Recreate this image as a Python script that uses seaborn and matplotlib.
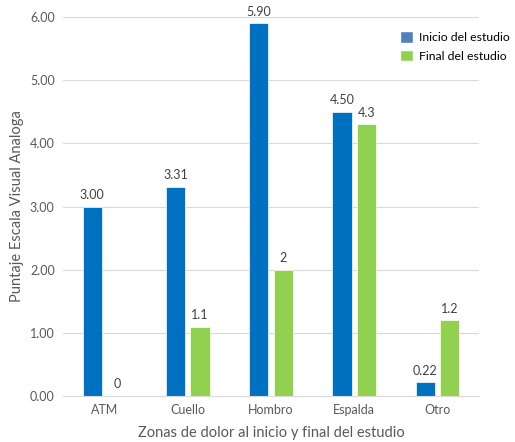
import matplotlib
matplotlib.use("Agg")
import matplotlib.pyplot as plt
import seaborn as sns
import pandas as pd
from matplotlib.patches import Patch

categories = ["ATM", "Cuello", "Hombro", "Espalda", "Otro"]
inicio = [3.00, 3.31, 5.90, 4.50, 0.22]
final = [0.0, 1.1, 2.0, 4.3, 1.2]
inicio_labels = ["3.00", "3.31", "5.90", "4.50", "0.22"]
final_labels = ["0", "1.1", "2", "4.3", "1.2"]
series = ["Inicio del estudio", "Final del estudio"]
yticks = [0, 1, 2, 3, 4, 5, 6]

df = pd.DataFrame({
    "zona": categories * 2,
    "valor": inicio + final,
    "serie": [series[0]] * len(categories) + [series[1]] * len(categories),
})

sns.set_theme(style="white")
plt.rcParams["font.family"] = ["Lato", "DejaVu Sans"]

fig = plt.figure(figsize=(5.15, 4.42), dpi=100)
ax = fig.add_axes([63 / 515, 1 - 396 / 442, (479 - 63) / 515, (396 - 17) / 442])

bar_colors = ["#0070C0", "#92D050"]
sns.barplot(data=df, x="zona", y="valor", hue="serie", order=categories,
            hue_order=series, palette=bar_colors, saturation=1, width=0.59,
            gap=0.22, ax=ax, legend=False, edgecolor="white", linewidth=0.5)

ax.set_ylim(0, 6)
ax.set_yticks(yticks)
ax.set_yticklabels([f"{v:.2f}" for v in yticks])
ax.yaxis.grid(True, color="#D9D9D9", linewidth=0.8)
ax.set_axisbelow(True)
for s in ["top", "right", "left"]:
    ax.spines[s].set_visible(False)
ax.spines["bottom"].set_color("#D9D9D9")
ax.spines["bottom"].set_linewidth(0.8)
ax.tick_params(axis="both", length=0, labelsize=9, colors="#595959", pad=6)

ax.set_xlabel("Zonas de dolor al inicio y final del estudio", fontsize=10.5,
              color="#595959", labelpad=7)
ax.set_ylabel("Puntaje Escala Visual Analoga", fontsize=10.5, color="#595959",
              labelpad=4)

for cont, labs in zip(ax.containers, [inicio_labels, final_labels]):
    ax.bar_label(cont, labels=labs, padding=4, fontsize=9, color="#404040")

handles = [Patch(facecolor="#4F81BD"), Patch(facecolor="#92D050")]
fig.legend(handles, series, loc="upper left", bbox_to_anchor=(0.776, 0.93),
           frameon=False, fontsize=8.8, handlelength=1.1, handleheight=1.1,
           handletextpad=0.5, labelspacing=0.55, borderpad=0, borderaxespad=0,
           labelcolor="#000000")

fig.savefig("out.png", dpi=100)
